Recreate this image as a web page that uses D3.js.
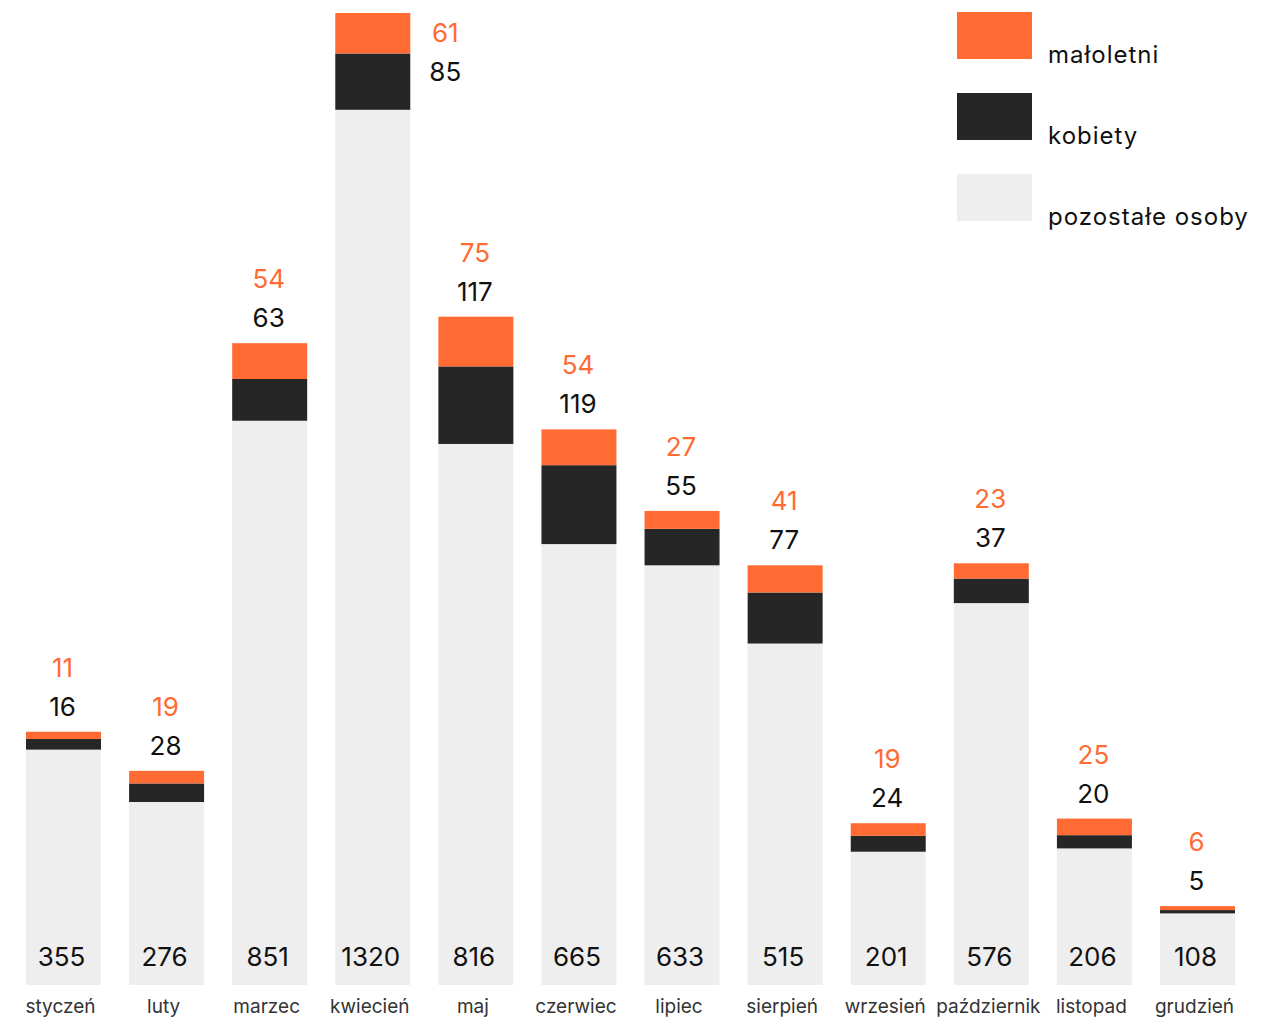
<!DOCTYPE html>
<html>
<head>
<meta charset="utf-8">
<script src="https://cdn.jsdelivr.net/npm/d3@7/dist/d3.min.js"></script>
<style>
  html, body { margin: 0; padding: 0; background: #fff; }
  svg { display: block; font-family: Inter, "Noto Sans", sans-serif; }
</style>
</head>
<body>
<svg id="chart" width="1288" height="1019"></svg>
<script>
const months = ["styczeń","luty","marzec","kwiecień","maj","czerwiec","lipiec","sierpień","wrzesień","październik","listopad","grudzień"];
const pozostale = [355,276,851,1320,816,665,633,515,201,576,206,108];
const kobiety   = [16,28,63,85,117,119,55,77,24,37,20,5];
const maloletni = [11,19,54,61,75,54,27,41,19,23,25,6];
const seriesNames = ["pozostałe osoby","kobiety","małoletni"];
const legendOrder = ["małoletni","kobiety","pozostałe osoby"];

const colors = {"pozostałe osoby":"#eeeeee","kobiety":"#262626","małoletni":"#ff6b33"};

const table = months.map((m,i)=>({month:m,"pozostałe osoby":pozostale[i],"kobiety":kobiety[i],"małoletni":maloletni[i]}));

const svg = d3.select("#chart");
const x = d3.scaleBand().domain(months).range([26, 1235]).paddingInner(0.2725).paddingOuter(0);
const maxTotal = d3.max(table, d => d["pozostałe osoby"]+d["kobiety"]+d["małoletni"]);
const y = d3.scaleLinear().domain([0, maxTotal]).range([985, 13]);

const stack = d3.stack().keys(seriesNames)(table);

svg.append("g").selectAll("g").data(stack).join("g")
  .attr("fill", s => colors[s.key])
  .selectAll("rect").data(s => s).join("rect")
  .attr("x", d => x(d.data.month))
  .attr("width", x.bandwidth())
  .attr("y", d => y(d[1]))
  .attr("height", d => y(d[0]) - y(d[1]));

// bottom value labels
svg.append("g").selectAll("text").data(table).join("text")
  .attr("x", d => x(d.month) + x.bandwidth()/2 - 2)
  .attr("y", 966)
  .attr("text-anchor","middle")
  .attr("font-size", 26)
  .attr("fill","#111")
  .text(d => d["pozostałe osoby"]);

// top labels
const lab = svg.append("g");
table.forEach(d => {
  const total = d["pozostałe osoby"]+d["kobiety"]+d["małoletni"];
  const top = y(total);
  const cx = x(d.month) + x.bandwidth()/2 - 1;
  let bx = cx, by = top - 16, ox = cx, oy = top - 55;
  if (top - 75 < 0) { // no room above: place to the right
    bx = x(d.month) + x.bandwidth() + 35; ox = bx;
    oy = top + 29; by = top + 68;
  }
  lab.append("text").attr("x", ox).attr("y", oy).attr("text-anchor","middle")
    .attr("font-size",26).attr("fill",colors["małoletni"]).text(d["małoletni"]);
  lab.append("text").attr("x", bx).attr("y", by).attr("text-anchor","middle")
    .attr("font-size",26).attr("fill","#111").text(d["kobiety"]);
});

// month axis labels
const xAxis = d3.axisBottom(x).tickSize(0).tickPadding(0);
const ax = svg.append("g").attr("transform","translate(-3,999)").call(xAxis);
ax.select(".domain").remove();
ax.selectAll("text").attr("font-size",19).attr("fill","#333").attr("font-family","Inter, 'Noto Sans', sans-serif");

// legend
const lg = svg.append("g").attr("transform","translate(957,12)");
legendOrder.forEach((k,i) => {
  const g = lg.append("g").attr("transform",`translate(0,${i*81})`);
  g.append("rect").attr("width",75).attr("height",47).attr("fill",colors[k]);
  g.append("text").attr("x",91).attr("y",51).attr("font-size",24).attr("letter-spacing",1)
    .attr("fill","#111").text(k);
});
</script>
</body>
</html>
